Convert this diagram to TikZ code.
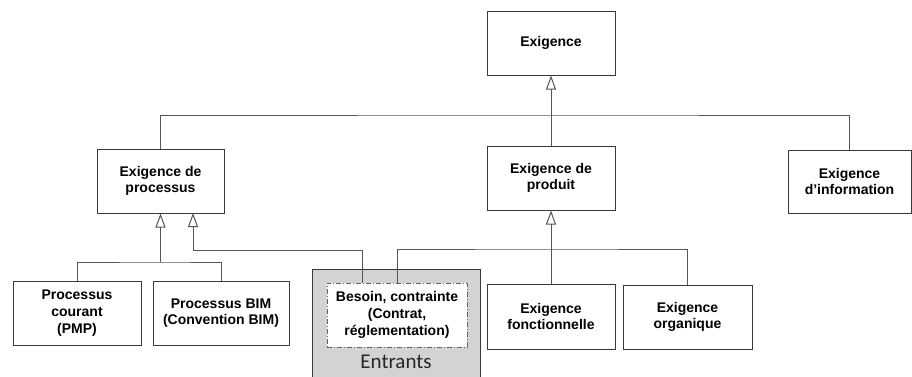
\documentclass[tikz,border=0pt]{standalone}
\usepackage{fontspec}
\setmainfont{Liberation Sans}
\newfontfamily\entfont{Carlito}
\usetikzlibrary{arrows.meta}
\definecolor{edge}{HTML}{3A3A3A}
\definecolor{wire}{HTML}{555555}
\definecolor{inputfill}{HTML}{D3D3D3}
\begin{document}
\begin{tikzpicture}[x=1pt,y=-1pt,
  reqbox/.style={draw=edge, line width=1pt, fill=white, inner sep=0pt,
    align=center, font=\fontsize{14}{16.7}\selectfont\bfseries},
  link/.style={draw=wire, line width=1pt},
  gen/.style={link, -{Triangle[open, width=10pt, length=14pt, line width=1pt]}}
]
\useasboundingbox (0,0) rectangle (912,376);

% incoming items area
\fill[inputfill] (312,269) rectangle (480,380);
\draw[edge, line width=1pt] (312,380) -- (312,269) -- (480,269) -- (480,380);
\node[font=\entfont\fontsize{21}{24}\selectfont, text=black!85] (entrants) at (396,362) {Entrants};

% requirement boxes
\node[reqbox, minimum width=128pt, minimum height=64pt] (exig) at (551,43) {Exigence};
\node[reqbox, minimum width=127pt, minimum height=64pt] (proc) at (160.5,181) {Exigence de\\processus};
\node[reqbox, minimum width=128pt, minimum height=64pt] (prod) at (551,178) {Exigence de\\produit};
\node[reqbox, minimum width=123pt, minimum height=63pt] (info) at (849.5,181.5) {Exigence\\d’information};
\node[reqbox, minimum width=128pt, minimum height=64pt] (pmp) at (77,313) {Processus\\courant\\(PMP)};
\node[reqbox, minimum width=136pt, minimum height=64pt] (bim) at (221,313) {Processus BIM\\(Convention BIM)};
\node[reqbox, draw=edge!80, dash pattern=on 5pt off 2pt on 1pt off 2pt,
  minimum width=140pt, minimum height=64pt] (besoin) at (397,315)
  {Besoin, contrainte\\(Contrat,\\réglementation)};
\node[reqbox, minimum width=128pt, minimum height=65pt] (fonc) at (551,316.5) {Exigence\\fonctionnelle};
\node[reqbox, minimum width=129pt, minimum height=64pt] (org) at (687.5,317) {Exigence\\organique};

% top-level specialisation
\coordinate (topbus) at (551,115);
\draw[link] (proc.north) |- (topbus) -| (info.north);
\draw[link] (topbus) -- (prod.north);
\draw[gen] (topbus) -- (exig.south);

% process requirements
\coordinate (pbus) at (160.5,262);
\draw[link] (pmp.north) |- (pbus) -| (bim.north);
\draw[gen] (pbus) -- (proc.south);
\draw[gen] ([xshift=-35pt]besoin.north) |- (193,250) -- (193,213);

% product requirements
\coordinate (dbus) at (551,249);
\draw[link] (besoin.north) |- (dbus) -| (org.north);
\draw[link] (fonc.north) -- (dbus);
\draw[gen] (dbus) -- (prod.south);
\end{tikzpicture}
\end{document}
